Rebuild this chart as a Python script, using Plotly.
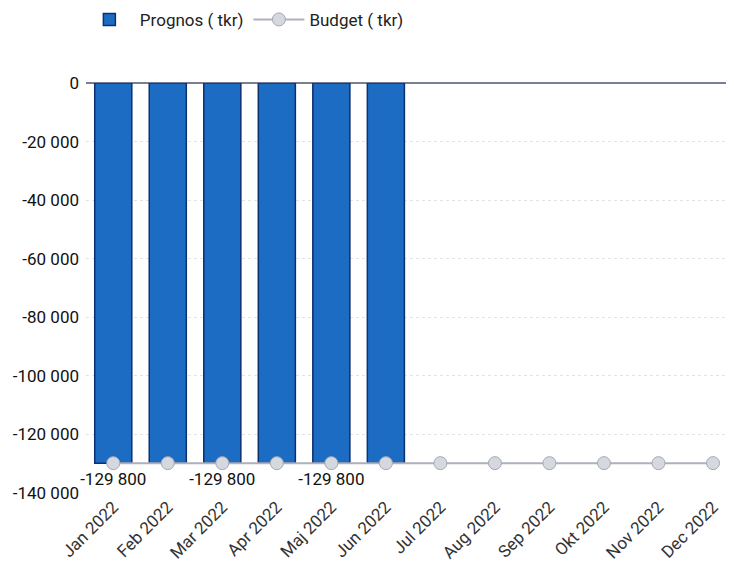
import plotly.graph_objects as go

months = ["Jan 2022", "Feb 2022", "Mar 2022", "Apr 2022", "Maj 2022", "Jun 2022",
          "Jul 2022", "Aug 2022", "Sep 2022", "Okt 2022", "Nov 2022", "Dec 2022"]
prognos = [-129800, -129800, -129800, -129800, -129800, -129800,
           None, None, None, None, None, None]
budget = [-129800] * 12
label_months = ["Jan 2022", "Mar 2022", "Maj 2022"]
y_ticks = [0, -20000, -40000, -60000, -80000, -100000, -120000, -140000]


def fmt(v):
    return f"{v:,}".replace(",", " ")


labels = [fmt(b) if m in label_months else "" for m, b in zip(months, budget)]

fig = go.Figure()
fig.add_trace(go.Bar(
    x=months, y=prognos, name="Prognos ( tkr)",
    marker=dict(color="#1b6cc2", line=dict(color="#0b3170", width=1.5)),
))
fig.add_trace(go.Scatter(
    x=months, y=budget, name="Budget ( tkr)", mode="lines+markers+text",
    line=dict(color="#aeb1bd", width=2),
    marker=dict(size=13, color="#d6d8df", line=dict(color="#a5a8b5", width=1)),
    text=labels, textposition="bottom center",
    textfont=dict(size=17, color="#111111"),
    cliponaxis=False,
))

# the page body has an 8px margin, so the figure is sized to fill the rest
fig.update_layout(
    width=726, height=562,
    margin=dict(l=78, r=0, t=75, b=77, autoexpand=False),
    paper_bgcolor="white", plot_bgcolor="white",
    font=dict(family="Roboto", size=17, color="#222222"),
    separators=", ",
    bargap=0.32,
    showlegend=True,
    legend=dict(orientation="h", x=-0.011, xanchor="left", y=1.154, yanchor="middle",
                font=dict(size=17, color="#222222"), itemwidth=51),
    xaxis=dict(
        type="category", range=[-0.5, 11.385], tickangle=-45,
        showgrid=False, showline=False, ticks="", automargin=False,
        tickfont=dict(size=17, color="#333333"),
    ),
    yaxis=dict(
        range=[-140000, 0], tickvals=y_ticks, ticktext=[fmt(v) for v in y_ticks],
        showgrid=True, gridcolor="#e3e3e3", gridwidth=1, griddash="dot",
        zeroline=True, zerolinecolor="#7a7f95", zerolinewidth=1.5,
        automargin=False, ticks="", ticklabelstandoff=6,
        tickfont=dict(size=17, color="#111111"),
    ),
)

fig.write_html("out.html")
